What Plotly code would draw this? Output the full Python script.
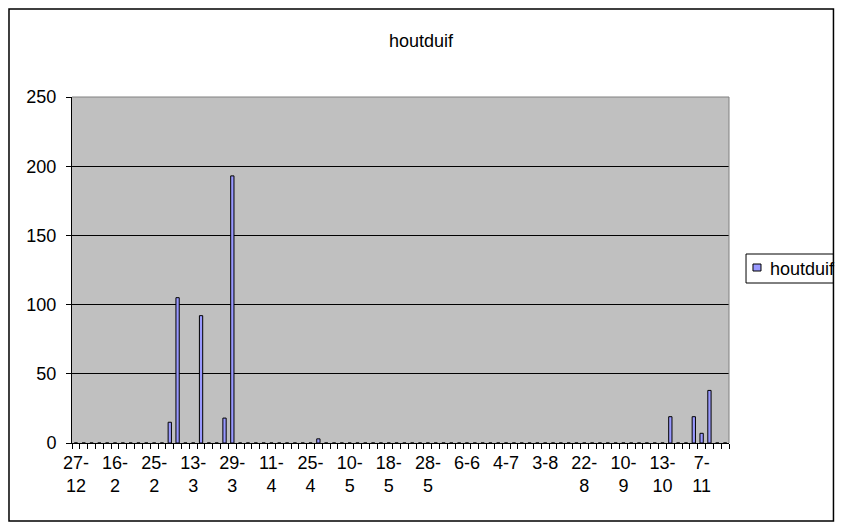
import plotly.graph_objects as go

# observation dates (every 5th one is labelled on the axis)
n_obs = 84
label_dates = ["27-12", "16-2", "25-2", "13-3", "29-3", "11-4", "25-4", "10-5", "18-5",
               "28-5", "6-6", "4-7", "3-8", "22-8", "10-9", "13-10", "7-11"]
label_idx = list(range(0, n_obs, 5))[:len(label_dates)]

# houtduif counts per observation (only non-zero ones)
count_idx = [12, 13, 16, 19, 20, 31, 76, 79, 80, 81]
count_val = [15, 105, 92, 18, 193, 3, 19, 19, 7, 38]

counts = [0] * n_obs
for i, v in zip(count_idx, count_val):
    counts[i] = v


def wrap(lbl):
    if len(lbl) > 3:
        a, b = lbl.split("-", 1)
        return a + "-<br>" + b
    return lbl


FONT = "Arial, Liberation Sans, sans-serif"
BAR = '#9999FF'

fig = go.Figure()
fig.add_trace(go.Bar(x=list(range(n_obs)), y=counts, name='houtduif', width=0.42,
                     marker=dict(color=BAR, line=dict(color='black', width=1)),
                     showlegend=False))

# page body has an 8px margin, so the figure is drawn smaller to avoid scrollbars
W, H = 835, 514
fig.update_layout(
    width=W, height=H,
    margin=dict(l=64, r=114, t=89, b=79, autoexpand=False),
    paper_bgcolor='white', plot_bgcolor='#C0C0C0',
    font=dict(family=FONT, size=18, color='black'),
    title=dict(text='houtduif', x=413 / W, xref='container', y=1 - 33 / H, yref='container',
               xanchor='center', yanchor='middle', font=dict(size=18)),
    showlegend=False,
    xaxis=dict(range=[-0.5, n_obs - 0.5], tickmode='array', tickvals=label_idx,
               ticktext=[wrap(l) for l in label_dates], ticks='', showgrid=False,
               showline=True, linecolor='black', linewidth=1, zeroline=False,
               tickangle=0, ticklabelstandoff=3,
               minor=dict(tickmode='linear', tick0=-0.5, dtick=1, ticks='outside',
                          ticklen=5, tickcolor='black', tickwidth=1, showgrid=False)),
    yaxis=dict(range=[0, 250], dtick=50, ticks='outside', ticklen=5, tickcolor='black',
               showgrid=True, gridcolor='black', gridwidth=1, showline=True,
               linecolor='black', linewidth=1, zeroline=False, ticklabelstandoff=6),
    shapes=[
        # plot area border (grey top/right)
        dict(type='line', xref='paper', yref='paper', x0=0, x1=1, y0=1, y1=1,
             line=dict(color='#808080', width=1), layer='above'),
        dict(type='line', xref='paper', yref='paper', x0=1, x1=1, y0=0, y1=1,
             line=dict(color='#808080', width=1), layer='above'),
        # legend box and swatch
        dict(type='rect', xref='paper', yref='paper', x0=1.0259, x1=1.159,
             y0=0.4624, y1=0.5462, line=dict(color='black', width=1),
             fillcolor='white', layer='above'),
        dict(type='rect', xref='paper', yref='paper', x0=1.0365, x1=1.0487,
             y0=0.4971, y1=0.5173, line=dict(color='black', width=1),
             fillcolor=BAR, layer='above'),
        # chart border
        dict(type='rect', xref='paper', yref='paper', x0=-0.0959, x1=1.159,
             y0=-0.2254, y1=1.2543, line=dict(color='black', width=1.5), layer='above'),
    ],
    annotations=[
        dict(text='houtduif', xref='paper', yref='paper', x=1.0594, y=0.5043,
             xanchor='left', yanchor='middle', showarrow=False, font=dict(size=18)),
    ],
)

fig.write_html("out.html")
